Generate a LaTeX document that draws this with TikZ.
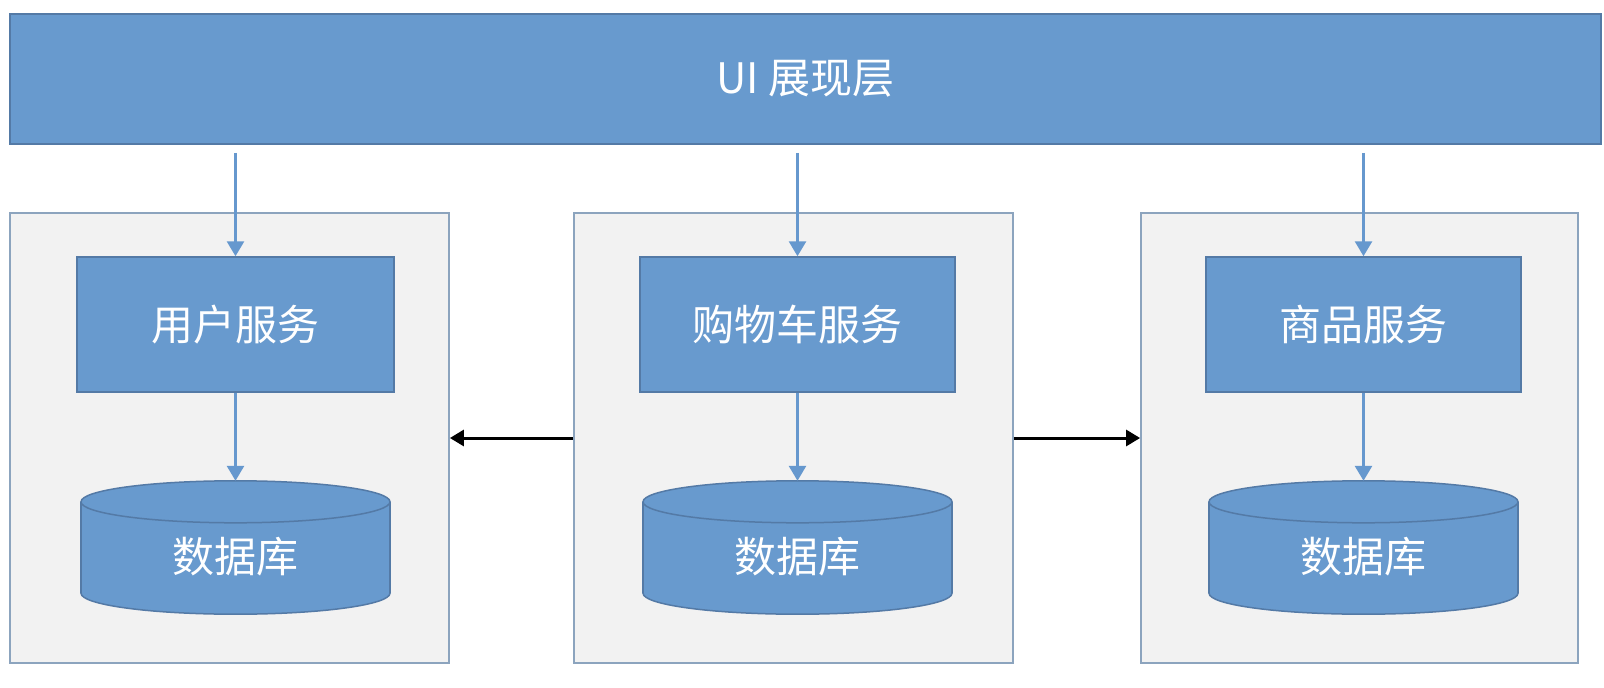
\documentclass[tikz,border=0pt]{standalone}
\usepackage{fontspec}
\setmainfont{Noto Sans CJK SC}
\usetikzlibrary{arrows.meta}
\definecolor{barfill}{RGB}{104,154,206}
\definecolor{barline}{RGB}{84,122,166}
\definecolor{contline}{RGB}{140,164,190}
\definecolor{contfill}{RGB}{242,242,242}
\definecolor{arrowblue}{RGB}{102,152,206}
\tikzset{
  bluebox/.style={draw=barline, fill=barfill, line width=1.5pt, text=white, font=\fontsize{42}{48}\selectfont, inner sep=0pt},
  container/.style={draw=contline, fill=contfill, line width=1.8pt, inner sep=0pt},
  dbarea/.style={inner sep=0pt, minimum width=309pt, minimum height=133pt},
  dbtext/.style={text=white, font=\fontsize{42}{48}\selectfont, inner sep=0pt},
  dbshape/.style={fill=barfill, draw=barline, line width=1.5pt},
  bluearrow/.style={draw=arrowblue, line width=2.8pt, -{Triangle[length=15pt, width=17pt]}},
  blackarrow/.style={draw=black, line width=3pt, -{Triangle[length=14pt, width=16pt]}}
}
\newcommand\drawdb[1]{%
  \draw[dbshape] ([yshift=21pt]#1.south) ellipse[x radius=154.5, y radius=21];
  \fill[barfill] ([yshift=-21pt]#1.north west) rectangle ([yshift=21pt]#1.south east);
  \draw[barline, line width=1.5pt] ([yshift=-21pt]#1.north west) -- ([yshift=21pt]#1.south west);
  \draw[barline, line width=1.5pt] ([yshift=-21pt]#1.north east) -- ([yshift=21pt]#1.south east);
  \draw[dbshape] ([yshift=-21pt]#1.north) ellipse[x radius=154.5, y radius=21];
}
\begin{document}
\begin{tikzpicture}[x=1pt, y=-1pt]
\fill[white] (0,0) rectangle (1604,688);
\useasboundingbox (0,0) rectangle (1604,688);

\node[bluebox, minimum width=1591pt, minimum height=130pt] (ui) at (805.5,79) {UI 展现层};

\node[container, minimum width=439pt, minimum height=450pt] (cl) at (229.5,438) {};
\node[container, minimum width=439pt, minimum height=450pt] (cm) at (793.5,438) {};
\node[container, minimum width=437pt, minimum height=450pt] (cr) at (1359.5,438) {};

\node[bluebox, minimum width=317pt, minimum height=135pt] (s1) at (235.5,324.5) {用户服务};
\node[bluebox, minimum width=315pt, minimum height=135pt] (s2) at (797.5,324.5) {购物车服务};
\node[bluebox, minimum width=315pt, minimum height=135pt] (s3) at (1363.5,324.5) {商品服务};

\node[dbarea] (d1) at (235.5,547.5) {};
\node[dbarea] (d2) at (797.5,547.5) {};
\node[dbarea] (d3) at (1363.5,547.5) {};
\drawdb{d1}
\drawdb{d2}
\drawdb{d3}
\node[dbtext] (t1) at (235.5,557) {数据库};
\node[dbtext] (t2) at (797.5,557) {数据库};
\node[dbtext] (t3) at (1363.5,557) {数据库};

\draw[bluearrow, shorten <=8pt] (ui.south -| s1.north) -- (s1.north);
\draw[bluearrow, shorten <=8pt] (ui.south -| s2.north) -- (s2.north);
\draw[bluearrow, shorten <=8pt] (ui.south -| s3.north) -- (s3.north);

\draw[bluearrow] (s1.south) -- (d1.north);
\draw[bluearrow] (s2.south) -- (d2.north);
\draw[bluearrow] (s3.south) -- (d3.north);

\draw[blackarrow] (cm.west) -- (cl.east);
\draw[blackarrow] (cm.east) -- (cr.west);
\end{tikzpicture}
\end{document}
